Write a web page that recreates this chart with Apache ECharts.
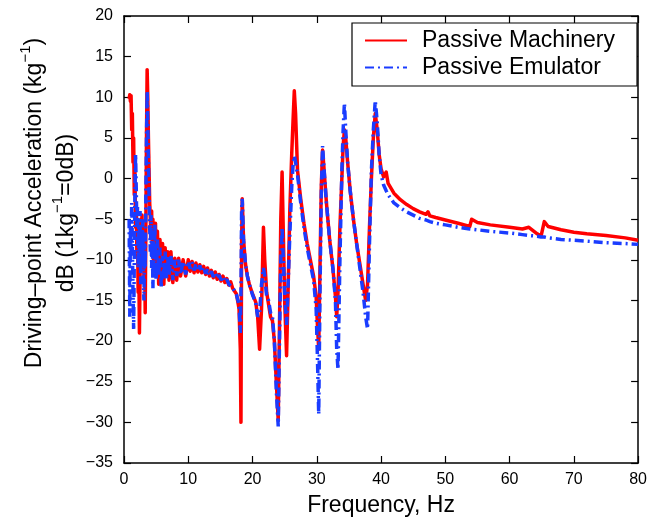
<!DOCTYPE html>
<html>
<head>
<meta charset="utf-8">
<script src="https://cdn.jsdelivr.net/npm/echarts@6/dist/echarts.min.js"></script>
<style>
html,body{margin:0;padding:0;background:#fff;}
#chart{width:650px;height:522px;}
</style>
</head>
<body>
<div id="chart"></div>
<script>
// Shared frequency axis (Hz)
const frequencyHz = [
  0.8,0.9,1.0,1.1,1.2,1.3,1.4,1.5,1.6,1.7,1.8,1.9,2.0,2.1,2.2,2.3,2.4,2.5,2.6,2.7,2.8,2.9,3.0,3.1,3.2,3.3,3.4,3.5,3.6,3.7,3.8,3.9,4.0,4.1,4.2,4.3,4.4,4.5,4.6,4.7,4.8,4.9,5.0,
  5.2,5.4,5.6,5.8,6.0,6.2,6.4,6.6,6.8,7.0,
  7.3,7.6,7.9,8.2,8.5,8.8,9.2,9.6,10.0,
  10.3,10.6,10.9,11.2,11.5,11.8,12.1,12.4,12.7,13.0,13.3,13.6,13.9,14.2,14.5,14.8,15.1,15.4,15.7,16.0,16.3,16.6,16.9,17.2,17.5,
  17.9,18.1,18.2,18.3,18.4,18.6,18.9,19.2,19.5,20,20.5,
  20.8,21.1,21.4,21.7,21.9,22.2,22.5,22.8,23.1,23.4,23.7,
  24.0,24.2,24.4,24.6,24.8,25.0,25.3,25.5,25.8,26.1,26.3,26.5,26.7,27.0,
  27.5,28,28.5,29,29.5,29.9,30.1,30.3,30.5,30.7,30.9,31.1,31.5,
  32,32.5,32.9,33.1,33.3,33.6,33.9,34.1,34.3,34.5,34.8,35.2,
  35.7,36.2,36.7,37.2,37.6,37.9,38.2,38.5,38.8,39.1,39.4,39.7,40.0,40.4,40.8,41.1,
  42,43,44,45,46,47,47.3,47.6,48.5,50,52,53.8,54.1,55,57,60,62,63,64.3,64.9,65.4,66,68,70,72,75,78,80
];
// Passive Machinery (dB)
const machineryDb = [
  9.8,10.3,9.5,10.2,6,8,2,5,-2,1,-6,-3,-9,-6,-14,-10,-19,-12,-5,-9,-4.5,-11,-6,-12,-9,-16.5,-6,5,13.4,10,5,1,-3,-5,-7,-4,-9,-5,-11,-6,-11,-5.5,-12,
  -6.5,-13,-7.5,-12.5,-8,-13,-8.5,-12,-9,-12.5,
  -9,-12.8,-9.8,-12.5,-9.8,-12,-10,-12,-10,
  -11.4,-10.2,-11.6,-10.4,-11.5,-10.6,-11.6,-10.8,-11.8,-11,-12,-11.3,-12.2,-11.5,-12.4,-11.8,-12.6,-12,-12.8,-12.3,-13.1,-12.7,-13.5,-13.3,-14.2,
  -16,-21,-30,-8,-2.5,-7.5,-10.5,-12,-13,-14.2,-15.2,
  -17,-21,-16,-6,-10,-14,-15.5,-17,-17.5,-20,-25,
  -29.8,-18,-5,0.8,-7,-15,-21.8,-15,-4,3,7,10.8,8,1,
  -2.5,-5.5,-8,-10,-12,-14.5,-18,-21,-11,-1,3.5,1.5,-3,
  -7.5,-11,-14.5,-17,-14,-6,0,4,6,5,2,-1.5,
  -5,-8,-10.5,-13,-15,-13,-6,0,5,8,6,3,1.2,0.2,0.8,-0.6,
  -1.8,-2.6,-3.2,-3.7,-4.1,-4.4,-4.1,-4.6,-4.8,-5.1,-5.5,-5.9,-5.0,-5.4,-5.7,-6.0,-6.2,-6.0,-6.8,-7.1,-5.3,-5.9,-6.3,-6.6,-6.8,-7.0,-7.3,-7.6
];
// Passive Emulator (dB)
const emulatorDb = [
  -5,-17,-6,-9,-3,-8,-14,-18.5,-10,-2,3,-1,-6,-3.5,-11,-6,-9,-4,-13,-7,-10,-5,-12,-15,-8,-11,-2,5,10.8,7,2,-2,-6,-9,-4.5,-11,-6.5,-13.5,-7.5,-11.5,-5.5,-9.5,-12.5,
  -7.5,-12,-8.5,-13.5,-9.5,-12.5,-9,-12.5,-9.5,-12,
  -9.5,-12.5,-10,-12,-10,-11.8,-10.2,-11.8,-10.2,
  -11.1,-10.3,-11.3,-10.5,-11.4,-10.7,-11.5,-10.9,-11.7,-11.1,-11.9,-11.4,-12.1,-11.6,-12.3,-11.9,-12.5,-12.1,-12.7,-12.4,-13,-12.8,-13.4,-13.4,-14.3,
  -15.5,-19,-14,-4,-2.5,-7.5,-10.5,-12,-13,-14.3,-15.3,
  -17,-16.5,-13,-11,-12,-14.5,-15,-16.5,-17,-20,-26,
  -30.5,-20,-10,-6,-10,-14,-18,-14,-7,-1,1.5,2.8,2,0.5,
  -3,-6,-8.5,-10.5,-12.5,-16,-22,-29,-14,-2,4,1.5,-3,
  -7.5,-11,-15,-21,-23.5,-10,1,6,9.3,6,2,-1.5,
  -5,-8,-11,-14,-17,-18.5,-8,1,6,9.6,7,3,0.5,-0.8,-1.5,-2,
  -3,-3.6,-4.1,-4.5,-4.9,-5.1,-5.2,-5.3,-5.5,-5.7,-6,-6.2,-6.3,-6.3,-6.5,-6.7,-6.9,-7.0,-7.1,-7.2,-7.2,-7.3,-7.5,-7.6,-7.7,-7.9,-8.0,-8.1
];
const seriesNames = ['Passive Machinery', 'Passive Emulator'];
const xTicks = {min: 0, max: 80, step: 10};
const yTicks = {min: -35, max: 20, step: 5};

const zip = (xs, ys) => xs.map((x, i) => [x, ys[i]]);
const FONT = '"Liberation Sans", Arial, Helvetica, sans-serif';

const chart = echarts.init(document.getElementById('chart'), null, {renderer: 'canvas'});
const axisCommon = {
  axisLine: {show: true, onZero: false, lineStyle: {color: '#000', width: 1.5}},
  axisTick: {show: true, inside: true, length: 7, lineStyle: {color: '#000', width: 1.2}},
  splitLine: {show: false}
};
const richTitle = {
  a: {fontSize: 23, fontFamily: FONT, fill: '#000', lineHeight: 28, verticalAlign: 'bottom'},
  s: {fontSize: 15, fontFamily: FONT, fill: '#000', lineHeight: 28, verticalAlign: 'top'}
};
chart.setOption({
  animation: false,
  backgroundColor: '#fff',
  grid: {left: 124, right: 11, top: 16, bottom: 56, containLabel: false},
  xAxis: [
    Object.assign({type: 'value', min: xTicks.min, max: xTicks.max, interval: xTicks.step, position: 'bottom',
      axisLabel: {color: '#000', fontSize: 16, fontFamily: FONT, margin: 9},
      name: 'Frequency, Hz', nameLocation: 'middle', nameGap: 31,
      nameTextStyle: {color: '#000', fontSize: 23, fontFamily: FONT}}, axisCommon),
    Object.assign({type: 'value', min: xTicks.min, max: xTicks.max, interval: xTicks.step, position: 'top',
      axisLabel: {show: false}}, axisCommon)
  ],
  yAxis: [
    Object.assign({type: 'value', min: yTicks.min, max: yTicks.max, interval: yTicks.step, position: 'left',
      axisLabel: {color: '#000', fontSize: 16, fontFamily: FONT, margin: 11,
        formatter: v => String(v).replace('-', '\u2212')}}, axisCommon),
    Object.assign({type: 'value', min: yTicks.min, max: yTicks.max, interval: yTicks.step, position: 'right',
      axisLabel: {show: false}}, axisCommon)
  ],
  legend: {
    show: true, orient: 'vertical', left: 352, top: 23,
    backgroundColor: '#fff', borderColor: '#000', borderWidth: 1.2,
    padding: [6, 22, 7, 12], itemWidth: 42, itemHeight: 20, itemGap: 4,
    itemStyle: {color: 'rgba(0,0,0,0)', borderColor: 'rgba(0,0,0,0)', borderWidth: 0, opacity: 0},
    textStyle: {color: '#000', fontSize: 23, fontFamily: FONT, padding: [0, 0, 0, 10]},
    data: seriesNames
  },
  graphic: [
    {type: 'text', x: 32, y: 203, rotation: Math.PI / 2,
      style: {text: '{a|Driving–point Acceleration (kg}{s|−1}{a|)}', align: 'center', verticalAlign: 'middle', rich: richTitle}},
    {type: 'text', x: 64, y: 213, rotation: Math.PI / 2,
      style: {text: '{a|dB (1kg}{s|−1}{a|=0dB)}', align: 'center', verticalAlign: 'middle', rich: richTitle}}
  ],
  series: [
    {name: seriesNames[0], type: 'line', xAxisIndex: 0, yAxisIndex: 0, data: zip(frequencyHz, machineryDb),
      symbol: 'none', showSymbol: false, sampling: null, clip: true,
      lineStyle: {color: '#ff0000', width: 3.5, join: 'round'}, itemStyle: {color: '#ff0000'}, z: 2},
    {name: seriesNames[1], type: 'line', xAxisIndex: 0, yAxisIndex: 0, data: zip(frequencyHz, emulatorDb),
      symbol: 'none', showSymbol: false, sampling: null, clip: true,
      lineStyle: {color: '#1a3cff', width: 3.5, type: [9, 4, 2, 4]}, itemStyle: {color: '#1a3cff'}, z: 3}
  ]
});
</script>
</body>
</html>
